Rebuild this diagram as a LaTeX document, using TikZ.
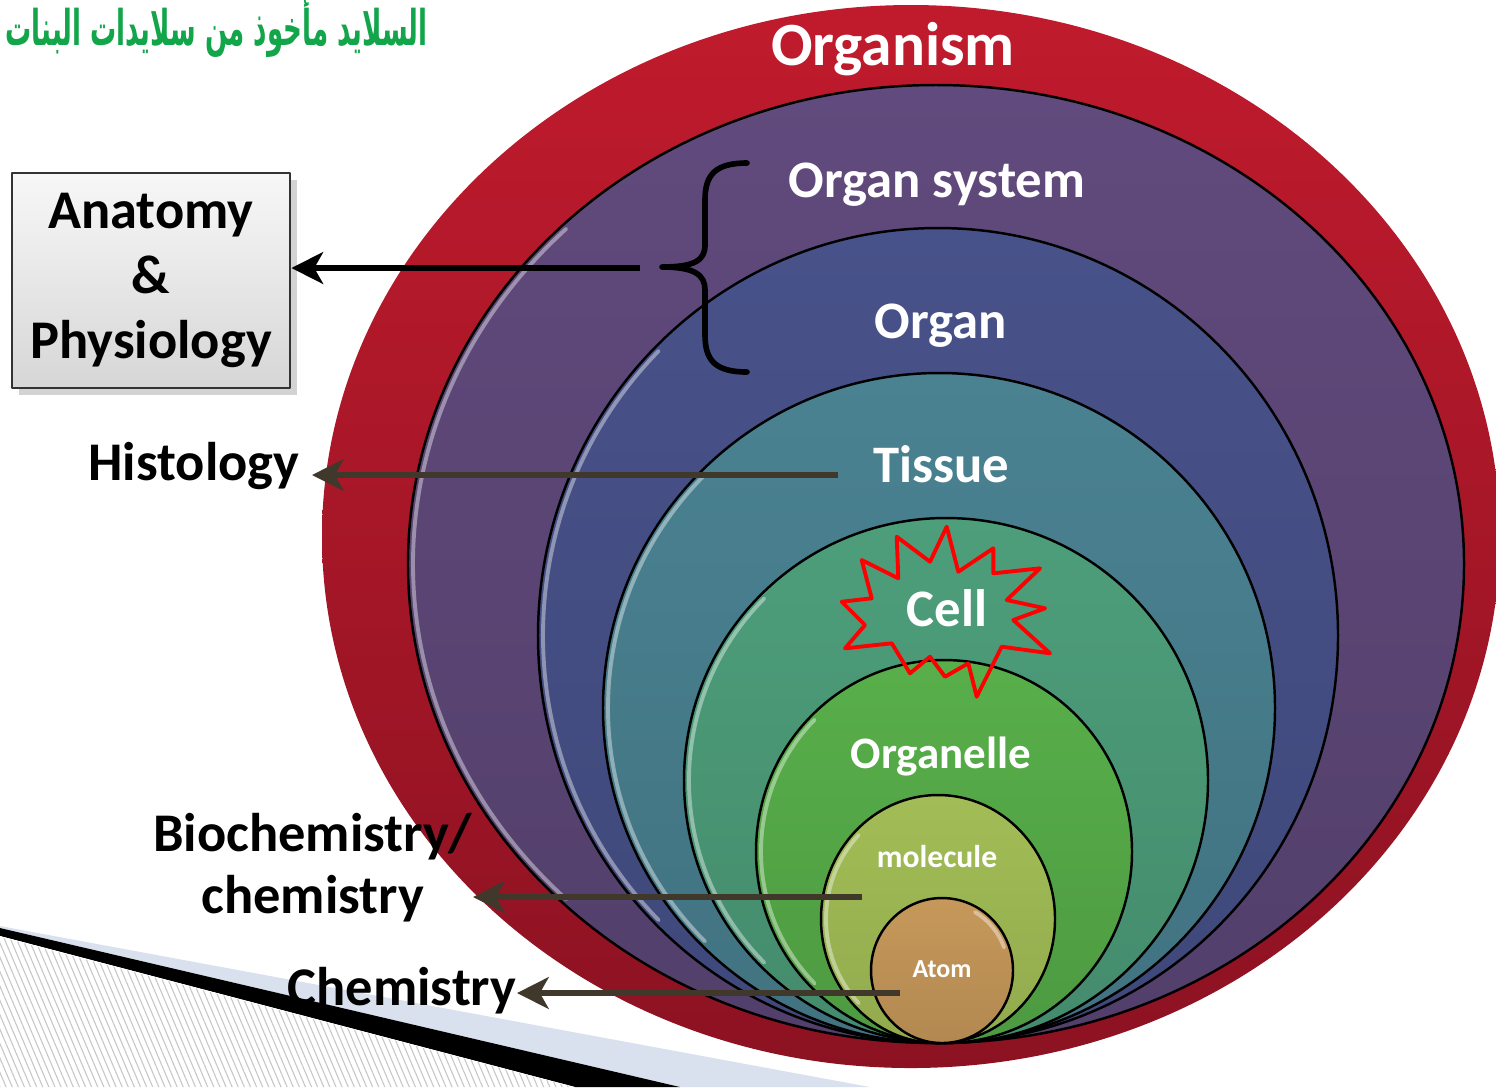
\documentclass[tikz,border=0pt]{standalone}
\usepackage{fontspec}
\setmainfont{Carlito}
\newfontfamily\arabicfont[Script=Arabic]{DejaVu Sans}
\TeXXeTstate=1
\usepackage{tikz}
\usetikzlibrary{arrows.meta,shadows,patterns.meta}
\definecolor{organismred}{RGB}{192,27,45}
\definecolor{organismdark}{RGB}{140,18,34}
\definecolor{systempurple}{RGB}{97,74,125}
\definecolor{organblue}{RGB}{72,82,138}
\definecolor{tissueteal}{RGB}{74,130,146}
\definecolor{cellgreen}{RGB}{77,158,123}
\definecolor{organellegreen}{RGB}{88,175,74}
\definecolor{moleculeolive}{RGB}{162,189,86}
\definecolor{atomtan}{RGB}{198,152,90}
\definecolor{arrowbrown}{RGB}{64,56,42}
\definecolor{notegreen}{RGB}{19,165,74}
\definecolor{slidegray}{RGB}{217,225,238}

\begin{document}
\begin{tikzpicture}[line cap=round,line join=round,>={Stealth[length=9pt,width=9pt,inset=2.5pt]},
    ring/.style={draw=black,line width=0.7pt},
    gloss/.style={white,opacity=0.4,line width=1.1pt},
    lvl/.style={text=white,font=\bfseries\fontsize{15}{18}\selectfont,inner sep=0pt,anchor=base},
    sci/.style={text=black,font=\bfseries\fontsize{15.5}{17.6}\selectfont,inner sep=0pt},
    pointer/.style={->,draw=arrowbrown,fill=arrowbrown,line width=1.9pt,line cap=butt},
    panel/.style={draw=black!80,line width=0.8pt,top color=gray!6,bottom color=gray!32,
        minimum width=2.78cm,minimum height=2.15cm,align=center,
        drop shadow={opacity=0.35,shadow xshift=2pt,shadow yshift=-2pt}}]
    \useasboundingbox (0,0) rectangle (14.96,-10.87);
    \clip (0,0) rectangle (14.96,-10.87);

    \fill[slidegray] (0,-9.26) -- (8.70,-10.87) -- (6.80,-10.87) -- (0,-9.28) -- cycle;
    \fill[black] (0,-9.28) -- (6.80,-10.87) -- (5.75,-10.87) -- (0,-9.36) -- cycle;
    \fill[white] (0,-9.36) -- (5.75,-10.87) -- (0,-10.87) -- cycle;
    \pattern[pattern={Lines[angle=-67,distance=1.6pt,line width=0.3pt]},pattern color=gray!45]
        (0,-9.37) -- (5.73,-10.87) -- (0,-10.87) -- cycle;

    \shade[top color=organismred,bottom color=organismdark] (9.11,-5.365) ellipse [x radius=5.89,y radius=5.315];
    \path[ring,top color=systempurple,bottom color=systempurple!85!black] (9.36,-5.64) ellipse [x radius=5.28,y radius=4.79];
    \path[ring,top color=organblue,bottom color=organblue!88!black] (9.38,-6.355) ellipse [x radius=4.00,y radius=4.075];
    \path[ring,top color=tissueteal,bottom color=tissueteal!88!black] (9.39,-7.08) ellipse [x radius=3.36,y radius=3.35];
    \path[ring,top color=cellgreen,bottom color=cellgreen!88!black] (9.46,-7.805) ellipse [x radius=2.62,y radius=2.625];
    \path[ring,top color=organellegreen,bottom color=organellegreen!88!black] (9.44,-8.515) ellipse [x radius=1.88,y radius=1.915];
    \path[ring,top color=moleculeolive,bottom color=moleculeolive!90!black] (9.38,-9.19) ellipse [x radius=1.17,y radius=1.24];
    \path[ring,top color=atomtan,bottom color=atomtan!90!black] (9.42,-9.705) ellipse [x radius=0.71,y radius=0.725];

    \draw[gloss] (9.36,-5.64) ++(135:5.23cm and 4.74cm) arc[start angle=135,end angle=225,x radius=5.23cm,y radius=4.74cm];
    \draw[gloss] (9.38,-6.355) ++(135:3.95cm and 4.025cm) arc[start angle=135,end angle=225,x radius=3.95cm,y radius=4.025cm];
    \draw[gloss] (9.39,-7.08) ++(135:3.31cm and 3.30cm) arc[start angle=135,end angle=225,x radius=3.31cm,y radius=3.30cm];
    \draw[gloss] (9.46,-7.805) ++(135:2.57cm and 2.575cm) arc[start angle=135,end angle=225,x radius=2.57cm,y radius=2.575cm];
    \draw[gloss] (9.44,-8.515) ++(135:1.83cm and 1.865cm) arc[start angle=135,end angle=225,x radius=1.83cm,y radius=1.865cm];
    \draw[gloss] (9.38,-9.19) ++(135:1.12cm and 1.19cm) arc[start angle=135,end angle=225,x radius=1.12cm,y radius=1.19cm];
    \draw[gloss] (9.42,-9.705) ++(20:0.66cm and 0.675cm) arc[start angle=20,end angle=60,x radius=0.66cm,y radius=0.675cm];

    \draw[red,line width=1.1pt] (9.467,-5.267) -- (9.583,-5.717) -- (9.933,-5.483) -- (9.933,-5.733)
        -- (10.40,-5.683) -- (10.067,-6.00) -- (10.45,-6.083) -- (10.133,-6.20) -- (10.50,-6.533)
        -- (10.017,-6.467) -- (9.767,-6.967) -- (9.683,-6.633) -- (9.45,-6.767) -- (9.30,-6.567)
        -- (9.10,-6.733) -- (8.917,-6.433) -- (8.45,-6.483) -- (8.65,-6.25) -- (8.417,-6.017)
        -- (8.717,-5.983) -- (8.617,-5.60) -- (8.983,-5.783) -- (8.967,-5.367) -- (9.30,-5.617) -- cycle;

    \node[lvl,font=\bfseries\fontsize{17.5}{20}\selectfont] (organism) at (8.93,-0.65) {Organism};
    \node[lvl] (system) at (9.37,-1.97) {Organ system};
    \node[lvl] (organ) at (9.41,-3.38) {Organ};
    \node[lvl] (tissue) at (9.41,-4.82) {Tissue};
    \node[lvl] (cell) at (9.47,-6.26) {Cell};
    \node[lvl,font=\bfseries\fontsize{12.8}{15}\selectfont] (organelle) at (9.41,-7.68) {Organelle};
    \node[lvl,font=\bfseries\fontsize{9}{11}\selectfont] (molecule) at (9.37,-8.67) {molecule};
    \node[lvl,font=\bfseries\fontsize{7.4}{9}\selectfont] (atom) at (9.42,-9.77) {Atom};

    \node[panel,font=\bfseries\fontsize{15.5}{18.5}\selectfont] (anatomy) at (1.51,-2.805) {Anatomy\\\&\\Physiology};
    \node[sci,anchor=base east,inner xsep=0.12cm] (histology) at (3.12,-4.80) {Histology};
    \node[sci,anchor=east,align=center] (biochem) at (4.73,-8.675) {Biochemistry/\\chemistry};
    \node[sci,anchor=base east] (chemistry) at (5.17,-10.05) {Chemistry};
    \node[text=notegreen,font=\arabicfont\bfseries\fontsize{14}{16}\selectfont,inner sep=0pt,anchor=west] (note) at (0.05,-0.27) {\scalebox{0.53}[1]{\beginR السلايد مأخوذ من سلايدات البنات\endR}};

    \draw[line width=1.6pt] (7.47,-1.63) .. controls (7.15,-1.63) and (7.05,-1.75) .. (7.05,-2.0)
        -- (7.05,-2.45) .. controls (7.05,-2.6) and (6.95,-2.67) .. (6.62,-2.67)
        .. controls (6.95,-2.67) and (7.05,-2.75) .. (7.05,-2.9)
        -- (7.05,-3.35) .. controls (7.05,-3.6) and (7.15,-3.72) .. (7.47,-3.72);

    \coordinate (apStart) at (6.40,-2.68);
    \coordinate (histStart) at (8.38,-4.75);
    \coordinate (bioStart) at (8.62,-8.97);
    \coordinate (chemStart) at (9.00,-9.93);
    \draw[->,line width=1.7pt,line cap=butt] (apStart) -- (apStart -| anatomy.east);
    \draw[pointer] (histStart) -- (histStart -| histology.east);
    \draw[pointer] (bioStart) -- (bioStart -| biochem.east);
    \draw[pointer] (chemStart) -- (chemStart -| chemistry.east);
\end{tikzpicture}
\end{document}
